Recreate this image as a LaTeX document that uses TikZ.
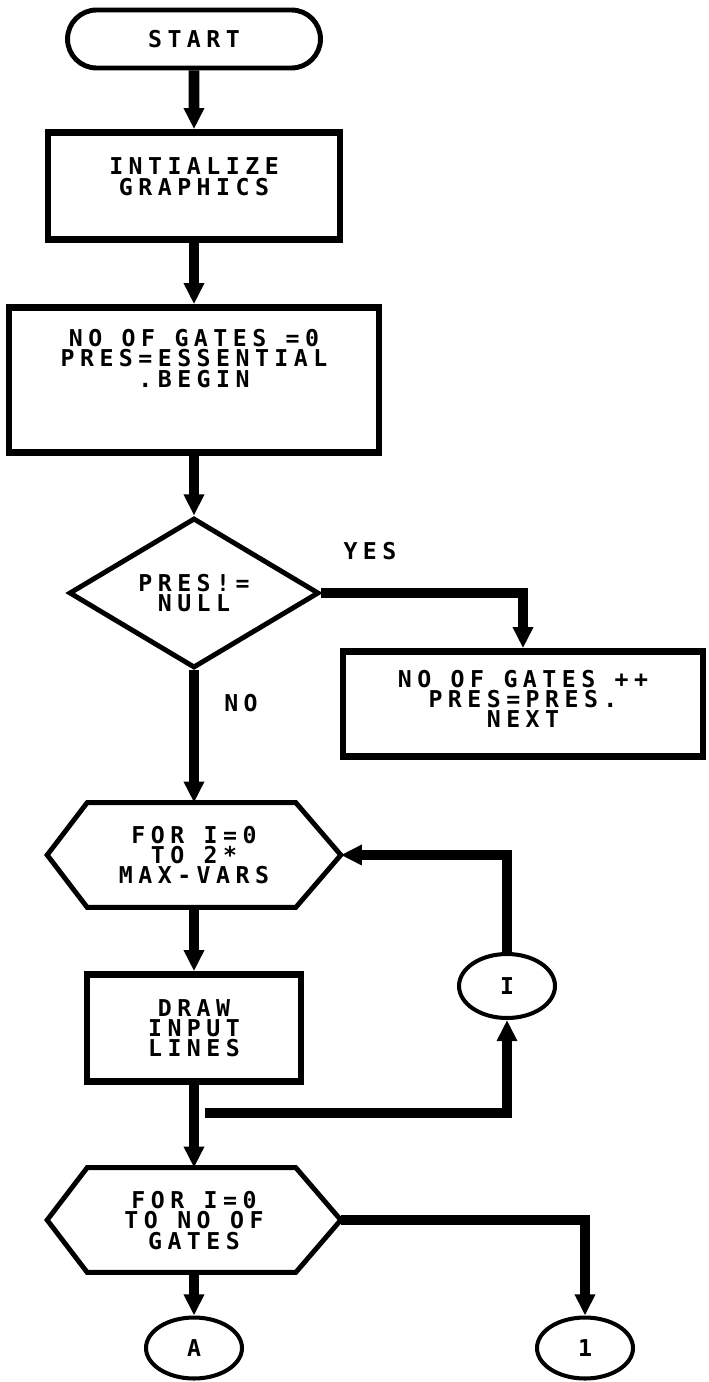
\documentclass[tikz,border=0pt]{standalone}
\usepackage{fontspec}
\usetikzlibrary{arrows.meta, shapes.geometric, shapes.misc}
\newfontfamily\flowfont[LetterSpace=23.6]{DejaVu Sans Mono}
\definecolor{inkcolor}{HTML}{000000}
\definecolor{papercolor}{HTML}{FFFFFF}

\begin{document}
\begin{tikzpicture}[
    x=0.02cm, y=-0.02cm,
    >={Triangle[width=11pt,length=12pt]},
    font=\flowfont\bfseries\fontsize{13.2}{11.6}\selectfont,
    flow/.style={->, draw=inkcolor, line width=6pt},
    termbox/.style={draw=inkcolor, rounded rectangle, line width=2.8pt, minimum width=5.06cm, minimum height=1.16cm, inner sep=0pt, text depth=0pt},
    procbox/.style={draw=inkcolor, rectangle, line width=3.8pt, inner sep=0pt, align=center, text depth=0pt},
    decbox/.style={draw=inkcolor, diamond, line width=2.8pt, minimum width=5cm, minimum height=3cm, inner sep=0pt, align=center, text depth=0pt},
    loopbox/.style={rectangle, minimum width=5.86cm, minimum height=2.08cm, inner sep=0pt, align=center, text depth=0pt},
    hexline/.style={draw=inkcolor, line width=2.8pt},
    connbox/.style={draw=inkcolor, ellipse, line width=2.3pt, minimum width=1.92cm, minimum height=1.22cm, inner sep=0pt, text depth=0pt}
]

    % Page
    \useasboundingbox[fill=papercolor] (0,0) rectangle (708,1382);

    % Main column
    \node[termbox] (start) at (194,39) {START};
    \node[procbox, minimum width=5.84cm, minimum height=2.14cm, text depth=10.8pt] (init) at (194,186) {INTIALIZE\\GRAPHICS};
    \node[procbox, minimum width=7.4cm, minimum height=2.9cm, text depth=25pt] (gates0) at (194,380) {NO OF GATES =0\\PRES=ESSENTIAL\\.BEGIN};
    \node[decbox] (presnull) at (194,593) {PRES!=\\NULL};
    \node[loopbox] (loopa) at (194,855) {FOR I=0\\TO 2*\\MAX-VARS};
    \node[procbox, minimum width=4.28cm, minimum height=2.14cm] (drawin) at (194,1028) {DRAW\\INPUT\\LINES};
    \node[loopbox] (loopb) at (194,1220) {FOR I=0\\TO NO OF\\GATES};
    \node[connbox] (conA) at (194,1348) {A};

    % Right column
    \node[procbox, minimum width=7.2cm, minimum height=2.1cm, text depth=5.7pt] (nextgate) at (523,704) {NO OF GATES ++\\PRES=PRES.\\NEXT};
    \node[connbox, minimum height=1.28cm] (conI) at (507,986) {I};
    \node[connbox] (conOne) at (585,1348) {1};

    % Branch labels
    \node (yes) at (370,551) {YES};
    \node (no) at (241,703) {NO};

    % Loop hexagons
    \foreach \hx in {loopa, loopb}
        \draw[hexline] (\hx.west) -- ([xshift=0.8cm]\hx.north west) -- ([xshift=-0.9cm]\hx.north east)
            -- (\hx.east) -- ([xshift=-0.9cm]\hx.south east) -- ([xshift=0.8cm]\hx.south west) -- cycle;

    % Connectors
    \draw[flow] (start) -- (init);
    \draw[flow] (init) -- (gates0);
    \draw[flow] (gates0) -- (presnull);
    \draw[flow] (presnull.east) -| (nextgate.north);
    \draw[flow] (presnull.south) -- (loopa.north);
    \draw[flow] (loopa.south) -- (drawin.north);
    \draw[flow] (drawin.south) -- (loopb.north);
    \coordinate (loopback) at (205,1113);
    \draw[flow] (loopback) -| (conI.south);
    \draw[flow] (conI.north) |- (loopa.east);
    \draw[flow] (loopb.east) -| (conOne.north);
    \draw[flow] (loopb.south) -- (conA.north);

\end{tikzpicture}
\end{document}
